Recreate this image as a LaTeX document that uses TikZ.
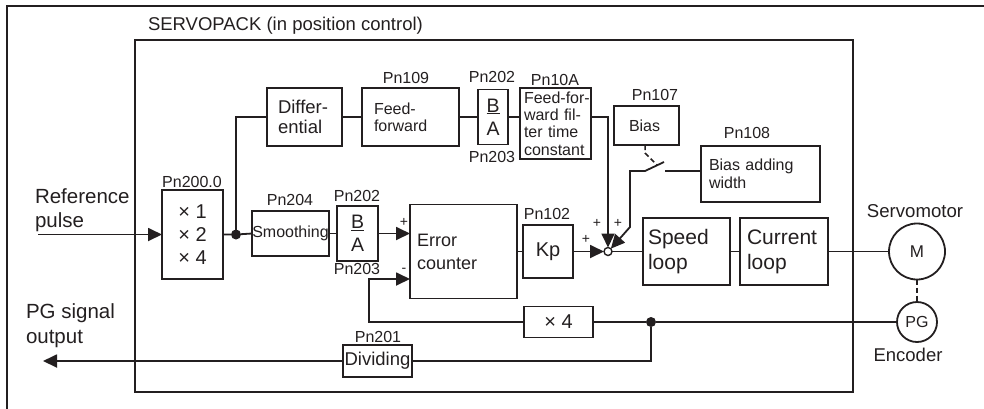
\documentclass[tikz,border=0pt]{standalone}
\usepackage{fontspec}
\setmainfont{Liberation Sans}
\usetikzlibrary{arrows.meta,calc}
\definecolor{ink}{HTML}{231F20}
\hyphenpenalty=10000
\exhyphenpenalty=10000
\newcommand\fsz[2]{\fontsize{#1}{#2}\selectfont}
\begin{document}
\begin{tikzpicture}[x=1pt,y=-1pt,line width=1.8pt,color=ink,
  every node/.style={inner sep=0pt,outer sep=0pt},
  bx/.style={draw,inner ysep=0pt},
  lt/.style={align=left},
  pn/.style={font=\fsz{16}{16}},
  sg/.style={font=\fsz{14}{14}},
  tip/.style={-{Triangle[length=14pt,width=13pt]}},
  dotn/.style={circle,fill,minimum size=10pt},
  dsh/.style={dash pattern=on 5pt off 3pt}]
\useasboundingbox (0,0) rectangle (984,408);
% outer frame (partly outside the picture)
\draw (7,420) -- (7,6) -- (995,6);
% SERVOPACK box
\node[bx,minimum width=718pt,minimum height=352pt] (sp) at (494,216) {};
\node[anchor=west,font=\fsz{18.5}{20}] (sptitle) at (148,26) {SERVOPACK (in position control)};
% blocks
\node[bx,minimum width=61pt,minimum height=89pt,align=center,font=\fsz{20}{23}] (mul) at (192.5,234.5) {×~1\\×~2\\×~4};
\node[pn] (pnA) at (192,182) {Pn200.0};
\node[dotn] (d1) at (236,234.5) {};
\node[bx,lt,minimum width=75pt,minimum height=58pt,inner xsep=11pt,text width=53pt,font=\fsz{18.5}{19.5}] (diff) at (304.5,117) {Differ-\\ential};
\node[bx,lt,minimum width=97pt,minimum height=58pt,inner xsep=12pt,text width=73pt,font=\fsz{16}{17}] (ff) at (410.5,117) {Feed-\\forward};
\node[pn] (pnB) at (406,78) {Pn109};
\node[bx,minimum width=30pt,minimum height=55pt,align=center,font=\fsz{19.5}{23}] (ba1) at (493,117) {\underline{B}\\A};
\node[pn] (pnC) at (492,77) {Pn202};
\node[pn] (pnD) at (492,157) {Pn203};
\node[bx,lt,minimum width=71pt,minimum height=71pt,inner xsep=4pt,text width=63pt,font=\fsz{16}{17.3}] (filt) at (555.5,123.5) {Feed-for-\\ward~fil-\\ter~time\\constant};
\node[pn] (pnE) at (555,80) {Pn10A};
\node[bx,lt,minimum width=65pt,minimum height=39pt,inner xsep=15pt,text width=35pt,font=\fsz{16}{17}] (bias) at (646.5,125.5) {Bias};
\node[pn] (pnF) at (655,95) {Pn107};
\node[bx,lt,minimum width=119pt,minimum height=56pt,inner xsep=8pt,text width=103pt,font=\fsz{16}{18}] (bw) at (760.5,174) {Bias~adding\\width};
\node[pn] (pnG) at (747,133) {Pn108};
\node[bx,minimum width=77pt,minimum height=45pt,font=\fsz{16}{16}] (sm) at (290.5,233.5) {Smoothing};
\node[pn] (pnH) at (290,200) {Pn204};
\node[bx,minimum width=41pt,minimum height=55pt,align=center,font=\fsz{19.5}{23}] (ba2) at (357.5,233.5) {\underline{B}\\A};
\node[pn] (pnI) at (357,196) {Pn202};
\node[pn] (pnJ) at (357,269) {Pn203};
\node[bx,lt,minimum width=107pt,minimum height=94pt,inner xsep=7pt,text width=93pt,font=\fsz{18}{23}] (err) at (463.5,251.5) {Error\\counter};
\node[bx,minimum width=50pt,minimum height=53pt,font=\fsz{20}{20}] (kp) at (548,251.5) {Kp};
\node[pn] (pnK) at (547,214) {Pn102};
\node[circle,draw,fill=white,minimum size=8pt,line width=1.4pt] (sum) at (608,251.5) {};
\node[bx,lt,minimum width=87pt,minimum height=67pt,inner xsep=5pt,text width=77pt,font=\fsz{21}{25}] (spd) at (686.5,251.5) {Speed\\loop};
\node[bx,lt,minimum width=88pt,minimum height=67pt,inner xsep=7pt,text width=74pt,font=\fsz{21}{25}] (cur) at (784,251.5) {Current\\loop};
\node[circle,draw,minimum size=56pt,font=\fsz{17}{17}] (mot) at (917,251.5) {M};
\node[font=\fsz{18.6}{19}] (mlab) at (915,211) {Servomotor};
\node[circle,draw,minimum size=40pt,font=\fsz{16}{16}] (pg) at (917,322) {PG};
\node[font=\fsz{18.5}{19}] (elab) at (908,355) {Encoder};
\node[bx,minimum width=69pt,minimum height=31pt,font=\fsz{20}{20}] (x4) at (558.5,322) {×~4};
\node[dotn] (d2) at (651,322) {};
\node[bx,minimum width=69pt,minimum height=32pt,font=\fsz{18.5}{19}] (div) at (377.5,361) {Dividing};
\node[pn] (pnL) at (378,337) {Pn201};
% outside labels
\node[lt,anchor=west,font=\fsz{20.5}{24}] (ref) at (35,210) {Reference\\pulse};
\node[lt,anchor=west,font=\fsz{20.5}{25}] (pgo) at (26,325.5) {PG signal\\output};
% signs
\node[sg] (sgA) at (404,222) {+};
\node[sg] (sgB) at (404,270) {-};
\node[sg] (sgC) at (597,223) {+};
\node[sg] (sgD) at (618,223) {+};
\node[sg] (sgE) at (586,239) {+};
% coordinates
\coordinate (rin) at (38,234.5);
\coordinate (fb) at (369,279);
\coordinate (pgout) at (43,361);
\coordinate (s1) at (630,171);
\coordinate (s2) at (645,171);
\coordinate (s3) at (664,162);
\coordinate (s4) at (665,171);
\coordinate (sk) at (630,227);
\coordinate (a1) at (645,145);
\coordinate (a2) at (645,153);
\coordinate (a3) at (657,165);
% connectors
\draw[tip] (rin) -- (mul.west);
\draw (mul.east) -- (d1) -- (sm.west);
\draw (d1) |- (diff.west);
\draw (diff) -- (ff);
\draw (ff) -- (ba1);
\draw (ba1.east) -- (ba1.east -| filt.west);
\draw[tip] (ba1.east -| filt.east) -| (sum.north);
\draw (sm) -- (ba2);
\draw[tip] (ba2.east) -- (ba2.east -| err.west);
\draw[tip] (x4.west) -| (fb) -- (fb -| err.west);
\draw (err) -- (kp);
\draw[tip] (kp) -- (sum);
\draw (sum) -- (spd);
\draw (spd) -- (cur);
\draw (cur) -- (mot);
\draw[dsh] (mot) -- (pg);
\draw (pg) -- (d2) -- (x4);
\draw (d2) |- (div.east);
\draw[tip] (div.west) -- (pgout);
% bias switch
\draw (s4) -- (s4 -| bw.west);
\draw[tip] (s3) -- (s2) -- (s1) -- (sk) -- (sum.north east);
\draw[dsh,line width=1.5pt] (a1) -- (a2) -- (a3);
\end{tikzpicture}
\end{document}
